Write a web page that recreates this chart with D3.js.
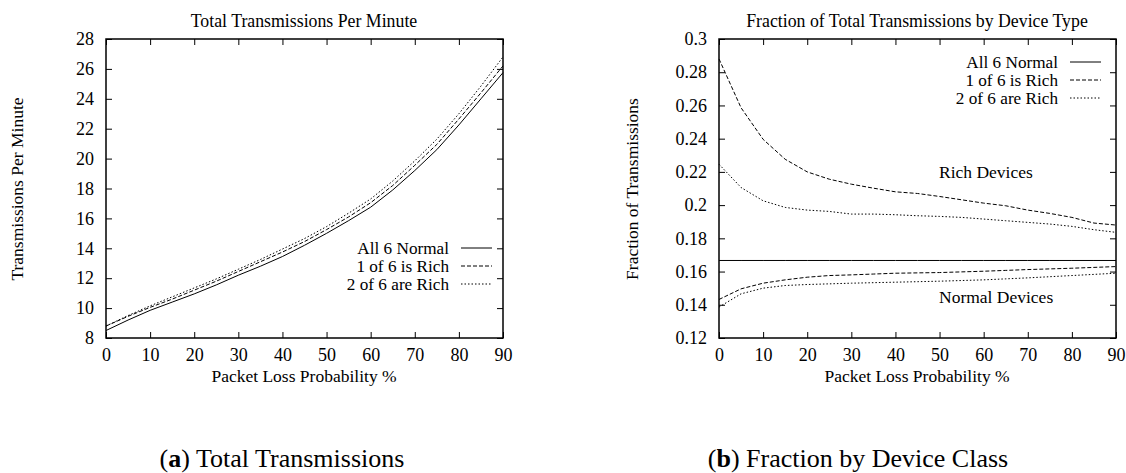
<!DOCTYPE html>
<html>
  <head>
    <meta charset="utf-8">
    <title>Transmissions</title>
    <script src="https://d3js.org/d3.v7.min.js"></script>
    <style>
      body { margin: 0; background: white; }
      svg text { font-family: "Liberation Serif", "DejaVu Serif", serif; fill: black; }
      .frame { fill: none; stroke: black; stroke-width: 1.5; }
      .tick line { stroke: black; stroke-width: 1; }
      .line { fill: none; stroke: black; stroke-width: 1; }
      .dash { stroke-dasharray: 4,2; }
      .dot { stroke-dasharray: 1.5,2; }
    </style>
  </head>
  <body>
    <script>
      var loss = [0, 5, 10, 15, 20, 25, 30, 35, 40, 45, 50, 55, 60, 65, 70, 75, 80, 85, 90];

      // (a) total transmissions per minute
      var totalNormal = [8.5, 9.2, 9.85, 10.4, 10.95, 11.55, 12.2, 12.8, 13.45, 14.2, 15.0, 15.85, 16.75, 17.9, 19.2, 20.6, 22.25, 24.0, 25.75];
      var totalRich1  = [8.8, 9.45, 10.05, 10.6, 11.2, 11.8, 12.45, 13.1, 13.75, 14.45, 15.25, 16.1, 17.05, 18.2, 19.55, 20.95, 22.65, 24.4, 26.2];
      var totalRich2  = [8.8, 9.5, 10.15, 10.75, 11.35, 11.95, 12.6, 13.25, 13.95, 14.65, 15.45, 16.35, 17.3, 18.5, 19.85, 21.3, 23.0, 24.85, 26.8];

      // (b) fraction of transmissions, rich and normal devices
      var fracNormal     = loss.map(function(){ return 1 / 6 });
      var fracRich1Rich  = [0.288, 0.2586, 0.2396, 0.2276, 0.22, 0.2156, 0.2126, 0.2102, 0.208, 0.207, 0.2052, 0.2032, 0.2012, 0.1996, 0.197, 0.195, 0.1926, 0.1892, 0.188];
      var fracRich2Rich  = [0.2246, 0.2106, 0.2026, 0.1986, 0.197, 0.1962, 0.1946, 0.1946, 0.1942, 0.1936, 0.1932, 0.1926, 0.1916, 0.1906, 0.1896, 0.1886, 0.1872, 0.1852, 0.1836];
      var fracRich1Norm  = [0.1432, 0.1496, 0.153, 0.155, 0.1566, 0.1576, 0.158, 0.1585, 0.159, 0.1592, 0.1594, 0.1598, 0.1602, 0.1607, 0.1612, 0.1616, 0.162, 0.1625, 0.163];
      var fracRich2Norm  = [0.1386, 0.1466, 0.15, 0.1516, 0.1522, 0.1526, 0.153, 0.1533, 0.1536, 0.1539, 0.1542, 0.1546, 0.155, 0.1556, 0.1562, 0.1569, 0.1576, 0.1583, 0.159];

      var xTicks = d3.range(0, 91, 10);
      var yTicksA = d3.range(8, 28.1, 2);
      var yTicksB = [0.12, 0.14, 0.16, 0.18, 0.2, 0.22, 0.24, 0.26, 0.28, 0.3];
      var legendNames = ['All 6 Normal', '1 of 6 is Rich', '2 of 6 are Rich'];
      var legendStyles = ['', 'dash', 'dot'];

      var W = 1126, H = 473;
      var svg = d3.select('body').append('svg').attr('width', W).attr('height', H);
      var serif = '"Liberation Serif", "DejaVu Serif", serif';

      function panel(o) {
        var x = d3.scaleLinear().domain([0, 90]).range([o.left, o.left + 397]);
        var y = d3.scaleLinear().domain(o.ydomain).range([338, 39]);
        var g = svg.append('g');
        var tl = 6;

        // ticks point inward on all four sides
        g.append('g').attr('transform', 'translate(0,338)')
          .call(d3.axisBottom(x).tickValues(xTicks).tickSizeInner(-tl).tickSizeOuter(0).tickPadding(10).tickFormat(d3.format('d')));
        g.append('g').attr('transform', 'translate(0,39)')
          .call(d3.axisTop(x).tickValues(xTicks).tickSizeInner(-tl).tickSizeOuter(0).tickFormat(''));
        g.append('g').attr('transform', 'translate(' + o.left + ',0)')
          .call(d3.axisLeft(y).tickValues(o.yticks).tickSizeInner(-tl).tickSizeOuter(0).tickPadding(12).tickFormat(o.yfmt));
        g.append('g').attr('transform', 'translate(' + (o.left + 397) + ',0)')
          .call(d3.axisRight(y).tickValues(o.yticks).tickSizeInner(-tl).tickSizeOuter(0).tickFormat(''));
        g.selectAll('.domain').remove();
        g.selectAll('.tick text').attr('font-size', 18).attr('font-family', serif).attr('fill', 'black');

        var line = d3.line()
          .x(function(d, i){ return x(loss[i]) })
          .y(function(d){ return y(d) });
        o.series.forEach(function(s){
          g.append('path').datum(s.values).attr('d', line).attr('class', 'line ' + s.style);
        });

        g.append('rect').attr('class', 'frame')
          .attr('x', o.left).attr('y', 39).attr('width', 397).attr('height', 299);

        g.append('text').attr('x', o.left + 198).attr('y', 27).attr('text-anchor', 'middle')
          .attr('font-size', 17.8).text(o.title);
        g.append('text').attr('x', o.left + 198).attr('y', 382).attr('text-anchor', 'middle')
          .attr('font-size', 17.5).text('Packet Loss Probability %');
        g.append('text').attr('transform', 'translate(' + o.ylabelX + ',189) rotate(-90)')
          .attr('text-anchor', 'middle').attr('font-size', 17.5).text(o.ylabel);

        var leg = g.append('g');
        legendNames.forEach(function(n, i){
          var ly = o.legendY + i * 18;
          leg.append('text').attr('x', o.legendX).attr('y', ly + 6).attr('text-anchor', 'end')
            .attr('font-size', 17.2).text(n);
          leg.append('line').attr('class', 'line ' + legendStyles[i])
            .attr('x1', o.legendX + 12).attr('x2', o.legendX + 43).attr('y1', ly).attr('y2', ly);
        });

        var cap = g.append('text').attr('x', o.capX).attr('y', 467).attr('text-anchor', 'middle').attr('font-size', 26);
        cap.append('tspan').text('(');
        cap.append('tspan').attr('font-weight', 'bold').text(o.capLetter);
        cap.append('tspan').text(') ' + o.caption);
        return { g: g, x: x, y: y };
      }

      panel({
        left: 106, ydomain: [8, 28], yticks: yTicksA, yfmt: d3.format('d'),
        title: 'Total Transmissions Per Minute', ylabel: 'Transmissions Per Minute', ylabelX: 23,
        legendX: 449, legendY: 248, capX: 282, capLetter: 'a', caption: 'Total Transmissions',
        series: [
          { values: totalNormal, style: '' },
          { values: totalRich1, style: 'dash' },
          { values: totalRich2, style: 'dot' }
        ]
      });

      var b = panel({
        left: 719, ydomain: [0.12, 0.3], yticks: yTicksB, yfmt: function(d){ return d3.format('.2~f')(d) },
        title: 'Fraction of Total Transmissions by Device Type', ylabel: 'Fraction of Transmissions', ylabelX: 638,
        legendX: 1058, legendY: 62, capX: 858, capLetter: 'b', caption: 'Fraction by Device Class',
        series: [
          { values: fracNormal, style: '' },
          { values: fracRich1Rich, style: 'dash' },
          { values: fracRich2Rich, style: 'dot' },
          { values: fracRich1Norm, style: 'dash' },
          { values: fracRich2Norm, style: 'dot' }
        ]
      });

      b.g.append('text').attr('x', 939).attr('y', 178).attr('font-size', 17.5).text('Rich Devices');
      b.g.append('text').attr('x', 939).attr('y', 303).attr('font-size', 17.5).text('Normal Devices');
    </script>
  </body>
</html>
